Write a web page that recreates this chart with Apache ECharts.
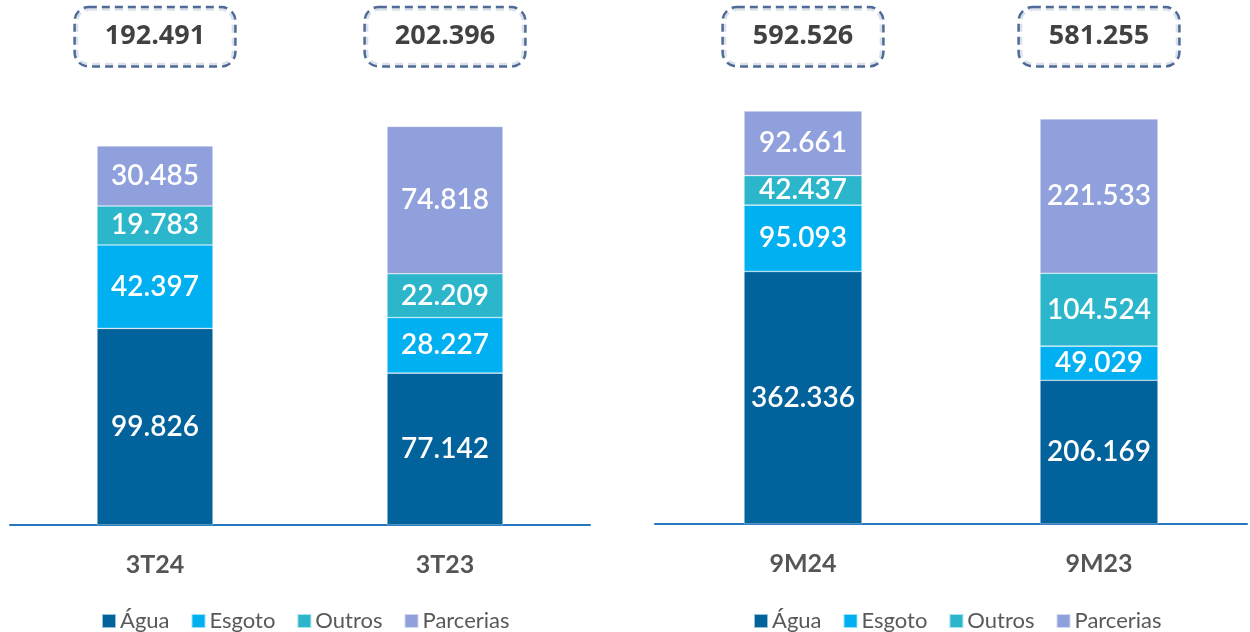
<!DOCTYPE html>
<html>
<head>
<meta charset="utf-8">
<script src="https://cdn.jsdelivr.net/npm/echarts@6/dist/echarts.min.js"></script>
<style>html,body{margin:0;padding:0;background:#fff}#c{width:1250px;height:632px}</style>
</head>
<body>
<div id="c"></div>
<script>
// ---- data (values in units; displayed with "." thousands separator) ----
const seriesNames = ['Água', 'Esgoto', 'Outros', 'Parcerias'];
const leftCategories = ['3T24', '3T23'];
const rightCategories = ['9M24', '9M23'];
const leftAgua = [99826, 77142];
const leftEsgoto = [42397, 28227];
const leftOutros = [19783, 22209];
const leftParcerias = [30485, 74818];
const leftTotals = [192491, 202396];
const rightAgua = [362336, 206169];
const rightEsgoto = [95093, 49029];
const rightOutros = [42437, 104524];
const rightParcerias = [92661, 221533];
const rightTotals = [592526, 581255];

const colors = ['#01629C', '#00B0F0', '#2CB6CC', '#8FA0DC'];
const fmt = v => String(Math.round(v)).replace(/\B(?=(\d{3})+(?!\d))/g, '.');

const leftMax = 266600, rightMax = 751800;
const boxFrac = 0.93;

function barSeries(name, data, axis, color) {
  return {
    type: 'bar', name, data, stack: 's' + axis, xAxisIndex: axis, yAxisIndex: axis,
    barWidth: axis === 0 ? 116 : 118,
    itemStyle: { color, borderColor: 'rgba(255,255,255,0.6)', borderWidth: 0.6 },
    label: { show: true, position: 'inside', color: '#fff', fontFamily: 'Lato', fontWeight: 600, fontSize: 28,
      formatter: p => fmt(p.value) },
    emphasis: { disabled: true }
  };
}
function totalSeries(totals, axis, max) {
  return {
    type: 'scatter', name: 'Total', xAxisIndex: axis, yAxisIndex: axis,
    symbol: 'rect', symbolSize: 1, itemStyle: { color: 'rgba(0,0,0,0)' },
    data: totals.map((t, i) => ({ value: [i, max * boxFrac], total: t })),
    label: { show: true, position: 'inside', formatter: p => fmt(p.data.total),
      fontFamily: 'Open Sans', fontWeight: 'bold', fontSize: 27, color: '#111',
      borderColor: '#23457C', borderWidth: 2.5, borderType: [8, 5], borderRadius: 13,
      padding: [15, 29], backgroundColor: '#fff' },
    emphasis: { disabled: true }, z: 5
  };
}

const xAxisCommon = {
  type: 'category', axisTick: { show: false },
  axisLine: { lineStyle: { color: '#2577C0', width: 2 } },
  axisLabel: { color: '#555', fontFamily: 'Lato', fontWeight: 'bold', fontSize: 25, margin: 27 }
};
const yAxisCommon = { type: 'value', min: 0, show: false, splitLine: { show: false } };
const legendCommon = {
  data: seriesNames, icon: 'rect', itemWidth: 14, itemHeight: 14, itemGap: 21,
  textStyle: { color: '#595959', fontFamily: 'Lato', fontSize: 22, padding: [0, 0, 0, -1] },
  top: 605, selectedMode: false
};

const chart = echarts.init(document.getElementById('c'));
chart.setOption({
  animation: false,
  grid: [
    { left: 10, width: 580, top: 0, height: 525 },
    { left: 655, width: 592, top: 0, height: 524 }
  ],
  xAxis: [
    Object.assign({}, xAxisCommon, { gridIndex: 0, data: leftCategories }),
    Object.assign({}, xAxisCommon, { gridIndex: 1, data: rightCategories })
  ],
  yAxis: [
    Object.assign({}, yAxisCommon, { gridIndex: 0, max: leftMax }),
    Object.assign({}, yAxisCommon, { gridIndex: 1, max: rightMax })
  ],
  legend: [
    Object.assign({}, legendCommon, { left: 96 }),
    Object.assign({}, legendCommon, { left: 748 })
  ],
  series: [
    barSeries('Água', leftAgua, 0, colors[0]),
    barSeries('Esgoto', leftEsgoto, 0, colors[1]),
    barSeries('Outros', leftOutros, 0, colors[2]),
    barSeries('Parcerias', leftParcerias, 0, colors[3]),
    totalSeries(leftTotals, 0, leftMax),
    barSeries('Água', rightAgua, 1, colors[0]),
    barSeries('Esgoto', rightEsgoto, 1, colors[1]),
    barSeries('Outros', rightOutros, 1, colors[2]),
    barSeries('Parcerias', rightParcerias, 1, colors[3]),
    totalSeries(rightTotals, 1, rightMax)
  ]
});
</script>
</body>
</html>
